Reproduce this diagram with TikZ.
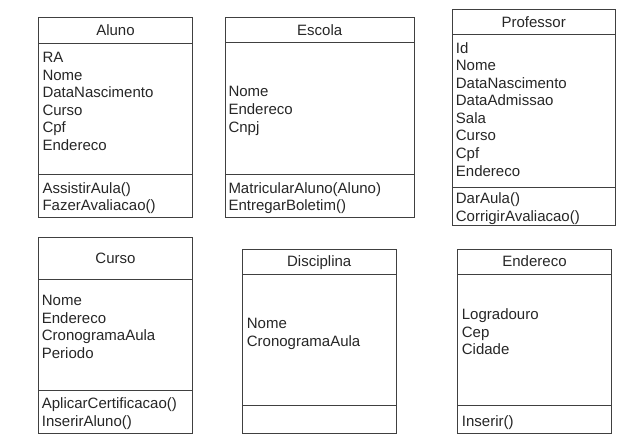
\documentclass[tikz,border=0pt]{standalone}
\usepackage{fontspec}
\setmainfont{Liberation Sans}
\begin{document}
\begin{tikzpicture}[x=1pt, y=-1pt]
    % Define styles
    \tikzset{
        classbox/.style={draw=black!75, line width=0.8pt},
        member/.style={anchor=west, text=black!85, font=\fontsize{15}{17.6}\selectfont,
            text height=0.716em, text depth=0pt, inner xsep=0pt, inner ysep=0pt, yshift=-1.8pt},
        classtitle/.style={member, anchor=center}
    }

    % Fix the page size
    \useasboundingbox (0,0) rectangle (623,441);

    % Aluno
    \draw[classbox] (38.3,17.3) rectangle (192.7,217.7);
    \draw[classbox] (38.3,43.3) -- (192.7,43.3);
    \draw[classbox] (38.3,174.3) -- (192.7,174.3);
    \node[classtitle] (aluno) at (115.5,30.3) {Aluno};
    \foreach \txt [count=\i] in {RA, Nome, DataNascimento, Curso, Cpf, Endereco}
        \node[member] (aluno-a\i) at (42.3, {57.3+(\i-1)*17.55}) {\txt};
    \foreach \txt [count=\i] in {AssistirAula(), FazerAvaliacao()}
        \node[member] (aluno-m\i) at (42.3, {188.3+(\i-1)*17.2}) {\txt};

    % Escola
    \draw[classbox] (225,17.3) rectangle (414.3,217.7);
    \draw[classbox] (225,42.3) -- (414.3,42.3);
    \draw[classbox] (225,174.3) -- (414.3,174.3);
    \node[classtitle] (escola) at (319.7,29.8) {Escola};
    \foreach \txt [count=\i] in {Nome, Endereco, Cnpj}
        \node[member] (escola-a\i) at (228.3, {91+(\i-1)*17.9}) {\txt};
    \foreach \txt [count=\i] in {MatricularAluno(Aluno), EntregarBoletim()}
        \node[member] (escola-m\i) at (228.3, {188.3+(\i-1)*17.2}) {\txt};

    % Professor
    \draw[classbox] (452.3,9) rectangle (615,225.7);
    \draw[classbox] (452.3,34.3) -- (615,34.3);
    \draw[classbox] (452.3,187.7) -- (615,187.7);
    \node[classtitle] (professor) at (533.7,21.7) {Professor};
    \foreach \txt [count=\i] in {Id, Nome, DataNascimento, DataAdmissao, Sala, Curso, Cpf, Endereco}
        \node[member] (professor-a\i) at (455.7, {47.7+(\i-1)*17.57}) {\txt};
    \foreach \txt [count=\i] in {DarAula(), CorrigirAvaliacao()}
        \node[member] (professor-m\i) at (455.7, {198.3+(\i-1)*17.4}) {\txt};

    % Curso
    \draw[classbox] (38.3,237.3) rectangle (192.7,433.3);
    \draw[classbox] (38.3,279) -- (192.7,279);
    \draw[classbox] (38.3,390.7) -- (192.7,390.7);
    \node[classtitle] (curso) at (115.5,258.2) {Curso};
    \foreach \txt [count=\i] in {Nome, Endereco, CronogramaAula, Periodo}
        \node[member] (curso-a\i) at (41.7, {300+(\i-1)*17.7}) {\txt};
    \foreach \txt [count=\i] in {AplicarCertificacao(), InserirAluno()}
        \node[member] (curso-m\i) at (41.7, {403.3+(\i-1)*18.2}) {\txt};

    % Disciplina
    \draw[classbox] (242.3,249) rectangle (396,433.3);
    \draw[classbox] (242.3,274) -- (396,274);
    \draw[classbox] (242.3,405.7) -- (396,405.7);
    \node[classtitle] (disciplina) at (319.2,261.5) {Disciplina};
    \foreach \txt [count=\i] in {Nome, CronogramaAula}
        \node[member] (disciplina-a\i) at (246.7, {323.3+(\i-1)*17.7}) {\txt};

    % Endereco
    \draw[classbox] (457.3,249) rectangle (611.7,433.3);
    \draw[classbox] (457.3,274) -- (611.7,274);
    \draw[classbox] (457.3,405.7) -- (611.7,405.7);
    \node[classtitle] (endereco) at (534.5,261.5) {Endereco};
    \foreach \txt [count=\i] in {Logradouro, Cep, Cidade}
        \node[member] (endereco-a\i) at (461.7, {314.3+(\i-1)*17.6}) {\txt};
    \node[member] (endereco-m1) at (461.7,421) {Inserir()};

\end{tikzpicture}
\end{document}
